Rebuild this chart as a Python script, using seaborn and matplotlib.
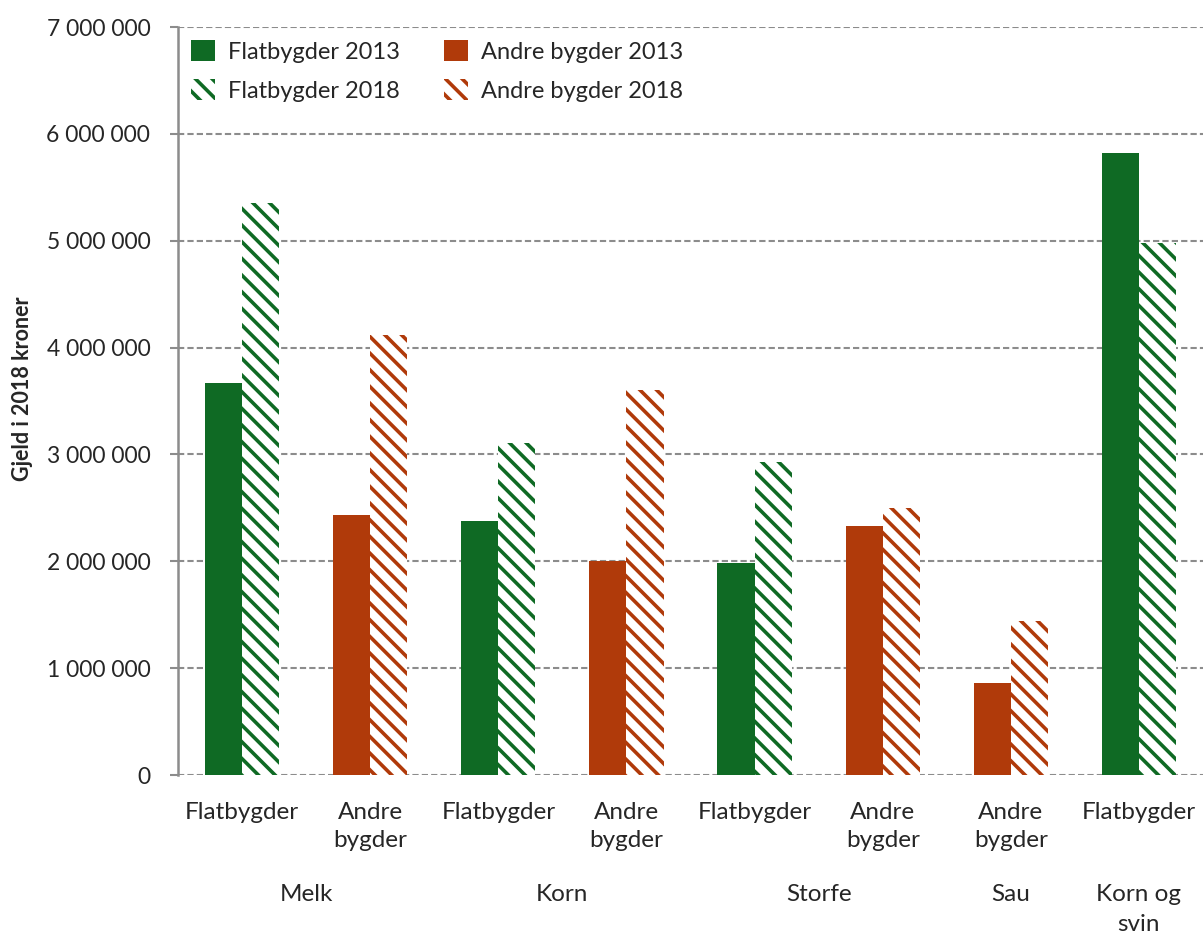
import pandas as pd
import seaborn as sns
import matplotlib.pyplot as plt
from matplotlib.patches import Patch
from matplotlib.ticker import FuncFormatter, MultipleLocator
import matplotlib.transforms as mtransforms

# Data
branches = ['Melk', 'Melk', 'Korn', 'Korn', 'Storfe', 'Storfe', 'Sau', 'Korn og svin']
regions = ['Flatbygder', 'Andre bygder', 'Flatbygder', 'Andre bygder',
           'Flatbygder', 'Andre bygder', 'Andre bygder', 'Flatbygder']
gjeld_2013 = [3670000, 2435000, 2378000, 2003000, 1985000, 2330000, 862000, 5822000]
gjeld_2018 = [5355000, 4118000, 3108000, 3605000, 2930000, 2500000, 1442000, 4980000]

group_labels = ['Melk', 'Korn', 'Storfe', 'Sau', 'Korn og\nsvin']
group_pos = [0.5, 2.5, 4.5, 6, 7]

green = '#0F6A24'
brown = '#B03A0A'
grey = '#8C8C8C'
stripes = '\\\\'

keys = [f'{b}|{r}' for b, r in zip(branches, regions)]
df = pd.DataFrame({
    'key': keys * 2,
    'region': regions * 2,
    'year': ['2013'] * len(keys) + ['2018'] * len(keys),
    'gjeld': gjeld_2013 + gjeld_2018,
})

sns.set_style('white')
plt.rcParams['font.family'] = ['Lato', 'DejaVu Sans']
plt.rcParams['hatch.linewidth'] = 2.6

fig = plt.figure(figsize=(12.03, 9.36), dpi=100)
ax = fig.add_axes([0.148, 0.172, 0.852, 0.799])

sns.barplot(data=df, x='key', y='gjeld', hue='year', order=keys,
            hue_order=['2013', '2018'], width=0.58, palette=[green, green],
            legend=False, ax=ax)

# recolour bars: solid for 2013, hatched for 2018
for year_i, container in enumerate(ax.containers):
    for patch, reg in zip(container.patches, regions):
        col = green if reg == 'Flatbygder' else brown
        if year_i == 0:
            patch.set_facecolor(col)
            patch.set_edgecolor(col)
            patch.set_linewidth(0)
        else:
            patch.set_facecolor('white')
            patch.set_edgecolor(col)
            patch.set_hatch(stripes)
            patch.set_linewidth(0)

ax.set_xlim(-0.5, 7.5)
ax.set_ylim(0, 7000000)
ax.yaxis.set_major_locator(MultipleLocator(1000000))
ax.yaxis.set_major_formatter(FuncFormatter(lambda v, p: f'{v:,.0f}'.replace(',', ' ')))
ax.grid(axis='y', color=grey, linestyle=(0, (3, 1.5)), linewidth=1.5)
ax.set_axisbelow(True)

for side in ['top', 'right', 'bottom']:
    ax.spines[side].set_visible(False)
ax.spines['left'].set_color(grey)
ax.spines['left'].set_linewidth(1.8)

ax.tick_params(axis='y', direction='out', length=6, width=1.5, color=grey,
               labelsize=16.5, pad=14, left=True)
ax.tick_params(axis='x', length=0, labelsize=17.5, pad=19.5)
ax.set_xticks(range(len(keys)))
ax.set_xticklabels([r.replace(' ', '\n') for r in regions], linespacing=1.4)

ax.set_xlabel('')
ax.set_ylabel('Gjeld i 2018 kroner', fontsize=15.5, fontweight='bold')
ax.yaxis.set_label_coords(-0.1415, 0.517)

trans = mtransforms.blended_transform_factory(ax.transData, ax.transAxes)
for lab, pos in zip(group_labels, group_pos):
    ax.text(pos, -0.146, lab, transform=trans, ha='center', va='top',
            fontsize=17.5, linespacing=1.5)

handles = [
    Patch(facecolor=green, edgecolor=green, linewidth=0),
    Patch(facecolor='white', edgecolor=green, hatch=stripes, linewidth=0),
    Patch(facecolor=brown, edgecolor=brown, linewidth=0),
    Patch(facecolor='white', edgecolor=brown, hatch=stripes, linewidth=0),
]
labels = ['Flatbygder 2013', 'Flatbygder 2018', 'Andre bygder 2013', 'Andre bygder 2018']
ax.legend(handles, labels, ncol=2, loc='upper left', bbox_to_anchor=(0.0, 1.0),
          frameon=False, fontsize=17, handlelength=1.0, handleheight=1.0,
          handletextpad=0.55, columnspacing=1.9, labelspacing=0.7,
          borderaxespad=0.1, borderpad=0.45)

fig.savefig('out.png', dpi=100)
